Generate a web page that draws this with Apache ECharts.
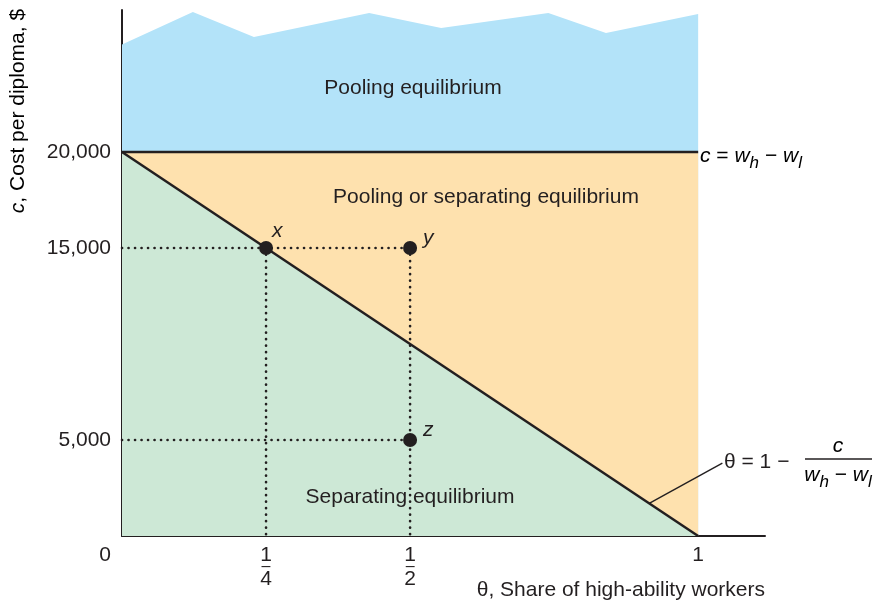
<!DOCTYPE html>
<html>
<head>
<meta charset="utf-8">
<style>
  html, body { margin: 0; padding: 0; background: #fff; }
  #chart { width: 879px; height: 604px; }
</style>
<script src="https://cdn.jsdelivr.net/npm/echarts@6/dist/echarts.min.js"></script>
</head>
<body>
<div id="chart"></div>
<script>
// Share of high-ability workers (theta) and cost per diploma (c)
const wageGap = 20000;                       // c = w_h - w_l
const poolingTop = [                         // ragged upper edge of the pooling region
  [0, 25600], [0.123, 27300], [0.229, 26000], [0.429, 27240],
  [0.554, 26460], [0.74, 27240], [0.84, 26200], [1, 27190]
];
const gapLine = [[0, wageGap], [1, wageGap]];
const separationLine = [[0, wageGap], [1, 0]];   // theta = 1 - c/(w_h - w_l)
const pointNames = ['x', 'y', 'z'];
const pointTheta = [0.25, 0.5, 0.5];
const pointCost = [15000, 15000, 5000];
const guides = [
  [[0, 15000], [0.5, 15000]],
  [[0.25, 15000], [0.25, 0]],
  [[0.5, 15000], [0.5, 0]],
  [[0, 5000], [0.5, 5000]]
];
const leader = [[0.915, 1700], [1.042, 3800]];
const xTickLabels = { 0: '0', 0.25: '1/4', 0.5: '1/2', 1: '1' };
const yTickLabels = { 5000: '5,000', 15000: '15,000', 20000: '20,000' };

// label nudges for the point names (pixels)
const pointLabelOffsets = [[-6, -17], [1, -10], [1, -10]];

const FONT = '"Liberation Sans", Arial, Helvetica, sans-serif';
const INK = '#231f20';
const FS = 21;

const chart = echarts.init(document.getElementById('chart'), null, { renderer: 'canvas' });

const areaSeries = (data, color) => ({
  type: 'line', data, symbol: 'none', silent: true, z: 1,
  lineStyle: { width: 0 }, areaStyle: { color, opacity: 1 }
});

const series = [
  areaSeries(poolingTop, '#b3e3f9'),
  areaSeries(gapLine, '#fee1ae'),
  areaSeries(separationLine, '#cde8d6')
];
guides.forEach(g => series.push({
  type: 'line', data: g, symbol: 'none', silent: true, z: 3,
  lineStyle: { color: INK, width: 2.6, type: [0.1, 6.4], cap: 'round' }
}));
series.push(
  { type: 'line', data: gapLine, symbol: 'none', z: 4, lineStyle: { color: INK, width: 2.5 } },
  { type: 'line', data: separationLine, symbol: 'none', z: 4, lineStyle: { color: INK, width: 2.5 } },
  { type: 'line', data: leader, symbol: 'none', z: 4, lineStyle: { color: INK, width: 1.4 } },
  {
    type: 'scatter', z: 10, symbol: 'circle', symbolSize: 14,
    data: pointNames.map((n, i) => ({
      value: [pointTheta[i], pointCost[i], n],
      label: { offset: pointLabelOffsets[i] }
    })),
    itemStyle: { color: INK, opacity: 1 },
    label: {
      show: true, position: 'right', formatter: p => p.value[2],
      fontFamily: FONT, fontSize: FS, fontStyle: 'italic', color: INK
    }
  }
);

const txt = (text, x, y) => ({
  type: 'text', x, y, z: 100,
  style: { text, fontFamily: FONT, fontSize: FS, fill: INK,
    textAlign: 'center', textVerticalAlign: 'middle' }
});

const mathRich = {
  i: { fontFamily: FONT, fontSize: FS, fontStyle: 'italic', color: INK },
  s: { fontFamily: FONT, fontSize: 17, fontStyle: 'italic', color: INK, padding: [14, 0, 0, 0] },
  r: { fontFamily: FONT, fontSize: FS, color: INK }
};

chart.setOption({
  animation: false,
  grid: { left: 122, top: 10, width: 643, height: 526, containLabel: false },
  xAxis: {
    type: 'value', min: 0, max: 1.116, interval: 0.25,
    splitLine: { show: false }, axisTick: { show: false },
    axisLine: { lineStyle: { color: INK, width: 2 } },
    axisLabel: {
      margin: 10, showMaxLabel: false, color: INK, fontFamily: FONT, fontSize: FS,
      formatter: v => {
        const t = xTickLabels[v];
        if (t === undefined) return '';
        if (t === '0') return '{zero|0}';
        if (t.indexOf('/') > 0) {
          const [n, d] = t.split('/');
          return '{n|' + n + '}\n{bar|–}\n{n|' + d + '}';
        }
        return '{n|' + t + '}';
      },
      rich: {
        n: { fontFamily: FONT, fontSize: FS, color: INK, lineHeight: 18 },
        bar: { fontFamily: FONT, fontSize: 16, color: INK, lineHeight: 6 },
        zero: { fontFamily: FONT, fontSize: FS, color: INK, lineHeight: 18, padding: [0, 34, 0, 0] }
      }
    }
  },
  yAxis: {
    type: 'value', min: 0, max: 27400, interval: 5000,
    splitLine: { show: false }, axisTick: { show: false },
    axisLine: { lineStyle: { color: INK, width: 2 } },
    axisLabel: {
      margin: 11, showMaxLabel: false, color: INK, fontFamily: FONT, fontSize: FS,
      formatter: v => yTickLabels[v] || ''
    }
  },
  series,
  graphic: [
    txt('Pooling equilibrium', 413, 88),
    txt('Pooling or separating equilibrium', 486, 197),
    txt('Separating equilibrium', 410, 497),
    {
      type: 'text', x: 765, y: 590, z: 100,
      style: { text: 'θ, Share of high-ability workers', fontFamily: FONT, fontSize: FS,
        fill: INK, textAlign: 'right', textVerticalAlign: 'middle' }
    },
    {
      type: 'text', x: 18, y: 111, rotation: Math.PI / 2, z: 100,
      style: { text: '{i|c}{r|, Cost per diploma, $}', rich: mathRich,
        textAlign: 'center', textVerticalAlign: 'middle' }
    },
    {
      type: 'text', x: 700, y: 156, z: 100,
      style: { text: '{i|c}{r| = }{i|w}{s|h}{r| − }{i|w}{s|l}', rich: mathRich,
        textAlign: 'left', textVerticalAlign: 'middle' }
    },
    {
      type: 'text', x: 724, y: 462, z: 100,
      style: { text: 'θ = 1 − ', fontFamily: FONT, fontSize: FS, fill: INK,
        textAlign: 'left', textVerticalAlign: 'middle' }
    },
    {
      type: 'text', x: 838, y: 446, z: 100,
      style: { text: '{i|c}', rich: mathRich, textAlign: 'center', textVerticalAlign: 'middle' }
    },
    {
      type: 'line', z: 100, shape: { x1: 805, y1: 459, x2: 872, y2: 459 },
      style: { stroke: INK, lineWidth: 1.4 }
    },
    {
      type: 'text', x: 838, y: 475, z: 100,
      style: { text: '{i|w}{s|h}{r| − }{i|w}{s|l}', rich: mathRich,
        textAlign: 'center', textVerticalAlign: 'middle' }
    }
  ]
});
</script>
</body>
</html>
